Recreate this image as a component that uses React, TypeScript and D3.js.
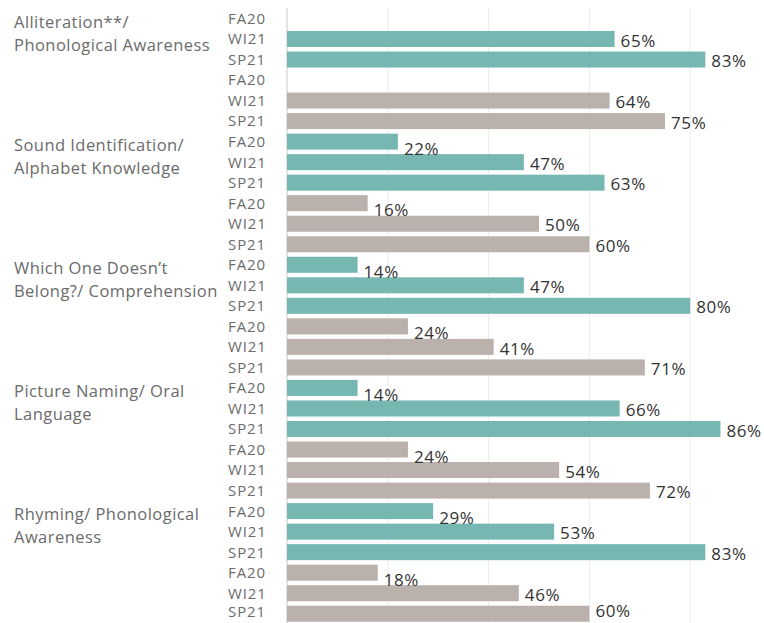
import React from "react";
import * as d3 from "d3";

const categories = [
  ["Alliteration**/", "Phonological Awareness"],
  ["Sound Identification/", "Alphabet Knowledge"],
  ["Which One Doesn\u2019t", "Belong?/ Comprehension"],
  ["Picture Naming/ Oral", "Language"],
  ["Rhyming/ Phonological", "Awareness"],
];
const terms = ["FA20", "WI21", "SP21"];
const groups = ["teal", "gray"];
// values per category: [FA20, WI21, SP21]
const tealValues: (number | null)[][] = [
  [null, 0.65, 0.83],
  [0.22, 0.47, 0.63],
  [0.14, 0.47, 0.8],
  [0.14, 0.66, 0.86],
  [0.29, 0.53, 0.83],
];
const grayValues: (number | null)[][] = [
  [null, 0.64, 0.75],
  [0.16, 0.5, 0.6],
  [0.24, 0.41, 0.71],
  [0.24, 0.54, 0.72],
  [0.18, 0.46, 0.6],
];
const gridTicks = [0.2, 0.4, 0.6, 0.8];

const colors: Record<string, string> = { teal: "#76B7B2", gray: "#BAB0AC" };

type Row = { cat: number; group: string; term: string; value: number | null; idx: number };

const rows: Row[] = [];
categories.forEach((_, ci) => {
  groups.forEach((g) => {
    const vals = g === "teal" ? tealValues[ci] : grayValues[ci];
    terms.forEach((t, ti) => {
      rows.push({ cat: ci, group: g, term: t, value: vals[ti], idx: rows.length });
    });
  });
});

const W = 764;
const H = 623;
const FONT = "'Open Sans', sans-serif";

export default function App() {
  const x = d3.scaleLinear().domain([0, 1]).range([287, 791]);
  const y = d3
    .scaleBand<number>()
    .domain(rows.map((r) => r.idx))
    .range([8.2, 624])
    .paddingInner(0.22)
    .paddingOuter(0.11);
  const step = y.step();
  const fmt = d3.format(".0%");

  return (
    <svg
      width={W}
      height={H}
      style={{ position: "absolute", left: 0, top: 0, background: "#fff" }}
      fontFamily={FONT}
    >
      {gridTicks.map((t) => (
        <line key={t} x1={x(t)} x2={x(t)} y1={8} y2={H} stroke="#ececec" strokeWidth={1} />
      ))}
      <line x1={x(0)} x2={x(0)} y1={8} y2={H} stroke="#c8c8c8" strokeWidth={1} />
      {categories.map((lines, ci) => {
        const top = 8.2 + ci * 6 * step;
        return (
          <text key={ci} x={14} y={top + 19.5} fontSize={16.5} letterSpacing={0.45} fill="#6b6b6b">
            {lines.map((l, li) => (
              <tspan key={li} x={14} dy={li === 0 ? 0 : 23}>
                {l}
              </tspan>
            ))}
          </text>
        );
      })}
      {rows.map((r) => {
        let yc = (y(r.idx) as number) + y.bandwidth() / 2;
        yc = Math.min(yc, H - 11);
        return (
          <text key={"t" + r.idx} x={228} y={yc} dy="0.36em" fontSize={15} letterSpacing={0.9} fill="#6b6b6b">
            {r.term}
          </text>
        );
      })}
      {rows.map((r) =>
        r.value == null ? null : (
          <rect
            key={"b" + r.idx}
            x={x(0)}
            y={y(r.idx)}
            width={x(r.value) - x(0)}
            height={y.bandwidth()}
            fill={colors[r.group]}
          />
        )
      )}
      {rows.map((r) => {
        if (r.value == null) return null;
        let yc = (y(r.idx) as number) + y.bandwidth() / 2 + (r.term === "FA20" ? 7 : 1.5);
        yc = Math.min(yc, H - 12);
        return (
          <text key={"v" + r.idx} x={x(r.value) + 6} y={yc} dy="0.36em" fontSize={17} letterSpacing={0.6} fill="#333">
            {fmt(r.value)}
          </text>
        );
      })}
    </svg>
  );
}
